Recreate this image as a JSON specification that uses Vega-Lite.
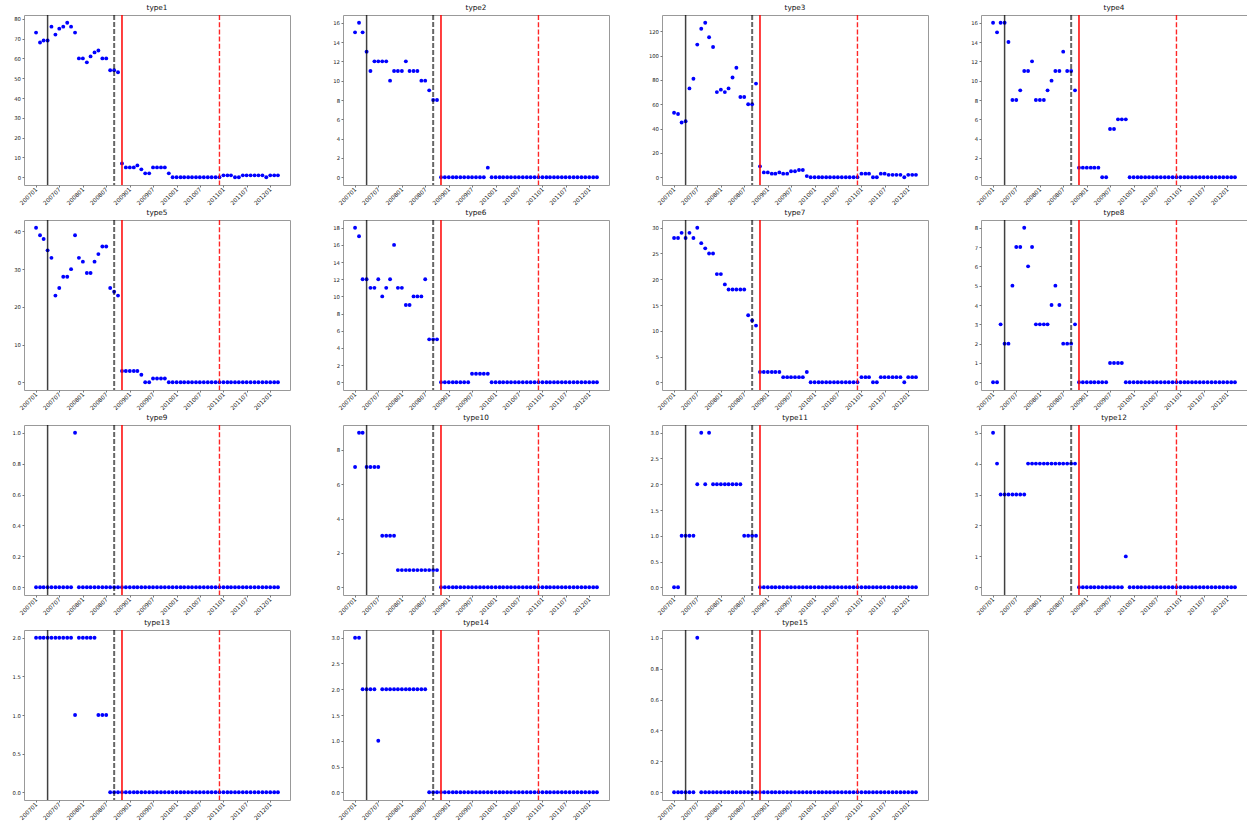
{
"$schema": "https://vega.github.io/schema/vega-lite/v6.json",
"background": "white",
"padding": {"left": 11, "top": 3, "right": 1, "bottom": 2},
"columns": 4,
"bounds": "flush",
"spacing": {"row": 35, "column": 53},
"data": {"values": [
{"type":"type1","month":"2007-01","value":73},{"type":"type1","month":"2007-02","value":68},{"type":"type1","month":"2007-03","value":69},{"type":"type1","month":"2007-04","value":69},{"type":"type1","month":"2007-05","value":76},{"type":"type1","month":"2007-06","value":72},{"type":"type1","month":"2007-07","value":75},{"type":"type1","month":"2007-08","value":76},{"type":"type1","month":"2007-09","value":78},{"type":"type1","month":"2007-10","value":76},{"type":"type1","month":"2007-11","value":73},{"type":"type1","month":"2007-12","value":60},
{"type":"type1","month":"2008-01","value":60},{"type":"type1","month":"2008-02","value":58},{"type":"type1","month":"2008-03","value":61},{"type":"type1","month":"2008-04","value":63},{"type":"type1","month":"2008-05","value":64},{"type":"type1","month":"2008-06","value":60},{"type":"type1","month":"2008-07","value":60},{"type":"type1","month":"2008-08","value":54},{"type":"type1","month":"2008-09","value":54},{"type":"type1","month":"2008-10","value":53},{"type":"type1","month":"2008-11","value":7},{"type":"type1","month":"2008-12","value":5},
{"type":"type1","month":"2009-01","value":5},{"type":"type1","month":"2009-02","value":5},{"type":"type1","month":"2009-03","value":6},{"type":"type1","month":"2009-04","value":4},{"type":"type1","month":"2009-05","value":2},{"type":"type1","month":"2009-06","value":2},{"type":"type1","month":"2009-07","value":5},{"type":"type1","month":"2009-08","value":5},{"type":"type1","month":"2009-09","value":5},{"type":"type1","month":"2009-10","value":5},{"type":"type1","month":"2009-11","value":2},{"type":"type1","month":"2009-12","value":0},
{"type":"type1","month":"2010-01","value":0},{"type":"type1","month":"2010-02","value":0},{"type":"type1","month":"2010-03","value":0},{"type":"type1","month":"2010-04","value":0},{"type":"type1","month":"2010-05","value":0},{"type":"type1","month":"2010-06","value":0},{"type":"type1","month":"2010-07","value":0},{"type":"type1","month":"2010-08","value":0},{"type":"type1","month":"2010-09","value":0},{"type":"type1","month":"2010-10","value":0},{"type":"type1","month":"2010-11","value":0},{"type":"type1","month":"2010-12","value":0},
{"type":"type1","month":"2011-01","value":1},{"type":"type1","month":"2011-02","value":1},{"type":"type1","month":"2011-03","value":1},{"type":"type1","month":"2011-04","value":0},{"type":"type1","month":"2011-05","value":0},{"type":"type1","month":"2011-06","value":1},{"type":"type1","month":"2011-07","value":1},{"type":"type1","month":"2011-08","value":1},{"type":"type1","month":"2011-09","value":1},{"type":"type1","month":"2011-10","value":1},{"type":"type1","month":"2011-11","value":1},{"type":"type1","month":"2011-12","value":0},
{"type":"type1","month":"2012-01","value":1},{"type":"type1","month":"2012-02","value":1},{"type":"type1","month":"2012-03","value":1},

{"type":"type2","month":"2007-01","value":15},{"type":"type2","month":"2007-02","value":16},{"type":"type2","month":"2007-03","value":15},{"type":"type2","month":"2007-04","value":13},{"type":"type2","month":"2007-05","value":11},{"type":"type2","month":"2007-06","value":12},{"type":"type2","month":"2007-07","value":12},{"type":"type2","month":"2007-08","value":12},{"type":"type2","month":"2007-09","value":12},{"type":"type2","month":"2007-10","value":10},{"type":"type2","month":"2007-11","value":11},{"type":"type2","month":"2007-12","value":11},
{"type":"type2","month":"2008-01","value":11},{"type":"type2","month":"2008-02","value":12},{"type":"type2","month":"2008-03","value":11},{"type":"type2","month":"2008-04","value":11},{"type":"type2","month":"2008-05","value":11},{"type":"type2","month":"2008-06","value":10},{"type":"type2","month":"2008-07","value":10},{"type":"type2","month":"2008-08","value":9},{"type":"type2","month":"2008-09","value":8},{"type":"type2","month":"2008-10","value":8},{"type":"type2","month":"2008-11","value":0},{"type":"type2","month":"2008-12","value":0},
{"type":"type2","month":"2009-01","value":0},{"type":"type2","month":"2009-02","value":0},{"type":"type2","month":"2009-03","value":0},{"type":"type2","month":"2009-04","value":0},{"type":"type2","month":"2009-05","value":0},{"type":"type2","month":"2009-06","value":0},{"type":"type2","month":"2009-07","value":0},{"type":"type2","month":"2009-08","value":0},{"type":"type2","month":"2009-09","value":0},{"type":"type2","month":"2009-10","value":0},{"type":"type2","month":"2009-11","value":1},{"type":"type2","month":"2009-12","value":0},
{"type":"type2","month":"2010-01","value":0},{"type":"type2","month":"2010-02","value":0},{"type":"type2","month":"2010-03","value":0},{"type":"type2","month":"2010-04","value":0},{"type":"type2","month":"2010-05","value":0},{"type":"type2","month":"2010-06","value":0},{"type":"type2","month":"2010-07","value":0},{"type":"type2","month":"2010-08","value":0},{"type":"type2","month":"2010-09","value":0},{"type":"type2","month":"2010-10","value":0},{"type":"type2","month":"2010-11","value":0},{"type":"type2","month":"2010-12","value":0},
{"type":"type2","month":"2011-01","value":0},{"type":"type2","month":"2011-02","value":0},{"type":"type2","month":"2011-03","value":0},{"type":"type2","month":"2011-04","value":0},{"type":"type2","month":"2011-05","value":0},{"type":"type2","month":"2011-06","value":0},{"type":"type2","month":"2011-07","value":0},{"type":"type2","month":"2011-08","value":0},{"type":"type2","month":"2011-09","value":0},{"type":"type2","month":"2011-10","value":0},{"type":"type2","month":"2011-11","value":0},{"type":"type2","month":"2011-12","value":0},
{"type":"type2","month":"2012-01","value":0},{"type":"type2","month":"2012-02","value":0},{"type":"type2","month":"2012-03","value":0},

{"type":"type3","month":"2007-01","value":53},{"type":"type3","month":"2007-02","value":52},{"type":"type3","month":"2007-03","value":45},{"type":"type3","month":"2007-04","value":46},{"type":"type3","month":"2007-05","value":73},{"type":"type3","month":"2007-06","value":81},{"type":"type3","month":"2007-07","value":109},{"type":"type3","month":"2007-08","value":122},{"type":"type3","month":"2007-09","value":127},{"type":"type3","month":"2007-10","value":115},{"type":"type3","month":"2007-11","value":107},{"type":"type3","month":"2007-12","value":70},
{"type":"type3","month":"2008-01","value":72},{"type":"type3","month":"2008-02","value":70},{"type":"type3","month":"2008-03","value":73},{"type":"type3","month":"2008-04","value":82},{"type":"type3","month":"2008-05","value":90},{"type":"type3","month":"2008-06","value":66},{"type":"type3","month":"2008-07","value":66},{"type":"type3","month":"2008-08","value":60},{"type":"type3","month":"2008-09","value":60},{"type":"type3","month":"2008-10","value":77},{"type":"type3","month":"2008-11","value":9},{"type":"type3","month":"2008-12","value":4},
{"type":"type3","month":"2009-01","value":4},{"type":"type3","month":"2009-02","value":3},{"type":"type3","month":"2009-03","value":3},{"type":"type3","month":"2009-04","value":4},{"type":"type3","month":"2009-05","value":3},{"type":"type3","month":"2009-06","value":3},{"type":"type3","month":"2009-07","value":5},{"type":"type3","month":"2009-08","value":5},{"type":"type3","month":"2009-09","value":6},{"type":"type3","month":"2009-10","value":6},{"type":"type3","month":"2009-11","value":1},{"type":"type3","month":"2009-12","value":0},
{"type":"type3","month":"2010-01","value":0},{"type":"type3","month":"2010-02","value":0},{"type":"type3","month":"2010-03","value":0},{"type":"type3","month":"2010-04","value":0},{"type":"type3","month":"2010-05","value":0},{"type":"type3","month":"2010-06","value":0},{"type":"type3","month":"2010-07","value":0},{"type":"type3","month":"2010-08","value":0},{"type":"type3","month":"2010-09","value":0},{"type":"type3","month":"2010-10","value":0},{"type":"type3","month":"2010-11","value":0},{"type":"type3","month":"2010-12","value":0},
{"type":"type3","month":"2011-01","value":3},{"type":"type3","month":"2011-02","value":3},{"type":"type3","month":"2011-03","value":3},{"type":"type3","month":"2011-04","value":0},{"type":"type3","month":"2011-05","value":0},{"type":"type3","month":"2011-06","value":3},{"type":"type3","month":"2011-07","value":3},{"type":"type3","month":"2011-08","value":2},{"type":"type3","month":"2011-09","value":2},{"type":"type3","month":"2011-10","value":2},{"type":"type3","month":"2011-11","value":2},{"type":"type3","month":"2011-12","value":0},
{"type":"type3","month":"2012-01","value":2},{"type":"type3","month":"2012-02","value":2},{"type":"type3","month":"2012-03","value":2},

{"type":"type4","month":"2007-01","value":16},{"type":"type4","month":"2007-02","value":15},{"type":"type4","month":"2007-03","value":16},{"type":"type4","month":"2007-04","value":16},{"type":"type4","month":"2007-05","value":14},{"type":"type4","month":"2007-06","value":8},{"type":"type4","month":"2007-07","value":8},{"type":"type4","month":"2007-08","value":9},{"type":"type4","month":"2007-09","value":11},{"type":"type4","month":"2007-10","value":11},{"type":"type4","month":"2007-11","value":12},{"type":"type4","month":"2007-12","value":8},
{"type":"type4","month":"2008-01","value":8},{"type":"type4","month":"2008-02","value":8},{"type":"type4","month":"2008-03","value":9},{"type":"type4","month":"2008-04","value":10},{"type":"type4","month":"2008-05","value":11},{"type":"type4","month":"2008-06","value":11},{"type":"type4","month":"2008-07","value":13},{"type":"type4","month":"2008-08","value":11},{"type":"type4","month":"2008-09","value":11},{"type":"type4","month":"2008-10","value":9},{"type":"type4","month":"2008-11","value":1},{"type":"type4","month":"2008-12","value":1},
{"type":"type4","month":"2009-01","value":1},{"type":"type4","month":"2009-02","value":1},{"type":"type4","month":"2009-03","value":1},{"type":"type4","month":"2009-04","value":1},{"type":"type4","month":"2009-05","value":0},{"type":"type4","month":"2009-06","value":0},{"type":"type4","month":"2009-07","value":5},{"type":"type4","month":"2009-08","value":5},{"type":"type4","month":"2009-09","value":6},{"type":"type4","month":"2009-10","value":6},{"type":"type4","month":"2009-11","value":6},{"type":"type4","month":"2009-12","value":0},
{"type":"type4","month":"2010-01","value":0},{"type":"type4","month":"2010-02","value":0},{"type":"type4","month":"2010-03","value":0},{"type":"type4","month":"2010-04","value":0},{"type":"type4","month":"2010-05","value":0},{"type":"type4","month":"2010-06","value":0},{"type":"type4","month":"2010-07","value":0},{"type":"type4","month":"2010-08","value":0},{"type":"type4","month":"2010-09","value":0},{"type":"type4","month":"2010-10","value":0},{"type":"type4","month":"2010-11","value":0},{"type":"type4","month":"2010-12","value":0},
{"type":"type4","month":"2011-01","value":0},{"type":"type4","month":"2011-02","value":0},{"type":"type4","month":"2011-03","value":0},{"type":"type4","month":"2011-04","value":0},{"type":"type4","month":"2011-05","value":0},{"type":"type4","month":"2011-06","value":0},{"type":"type4","month":"2011-07","value":0},{"type":"type4","month":"2011-08","value":0},{"type":"type4","month":"2011-09","value":0},{"type":"type4","month":"2011-10","value":0},{"type":"type4","month":"2011-11","value":0},{"type":"type4","month":"2011-12","value":0},
{"type":"type4","month":"2012-01","value":0},{"type":"type4","month":"2012-02","value":0},{"type":"type4","month":"2012-03","value":0},

{"type":"type5","month":"2007-01","value":41},{"type":"type5","month":"2007-02","value":39},{"type":"type5","month":"2007-03","value":38},{"type":"type5","month":"2007-04","value":35},{"type":"type5","month":"2007-05","value":33},{"type":"type5","month":"2007-06","value":23},{"type":"type5","month":"2007-07","value":25},{"type":"type5","month":"2007-08","value":28},{"type":"type5","month":"2007-09","value":28},{"type":"type5","month":"2007-10","value":30},{"type":"type5","month":"2007-11","value":39},{"type":"type5","month":"2007-12","value":33},
{"type":"type5","month":"2008-01","value":32},{"type":"type5","month":"2008-02","value":29},{"type":"type5","month":"2008-03","value":29},{"type":"type5","month":"2008-04","value":32},{"type":"type5","month":"2008-05","value":34},{"type":"type5","month":"2008-06","value":36},{"type":"type5","month":"2008-07","value":36},{"type":"type5","month":"2008-08","value":25},{"type":"type5","month":"2008-09","value":24},{"type":"type5","month":"2008-10","value":23},{"type":"type5","month":"2008-11","value":3},{"type":"type5","month":"2008-12","value":3},
{"type":"type5","month":"2009-01","value":3},{"type":"type5","month":"2009-02","value":3},{"type":"type5","month":"2009-03","value":3},{"type":"type5","month":"2009-04","value":2},{"type":"type5","month":"2009-05","value":0},{"type":"type5","month":"2009-06","value":0},{"type":"type5","month":"2009-07","value":1},{"type":"type5","month":"2009-08","value":1},{"type":"type5","month":"2009-09","value":1},{"type":"type5","month":"2009-10","value":1},{"type":"type5","month":"2009-11","value":0},{"type":"type5","month":"2009-12","value":0},
{"type":"type5","month":"2010-01","value":0},{"type":"type5","month":"2010-02","value":0},{"type":"type5","month":"2010-03","value":0},{"type":"type5","month":"2010-04","value":0},{"type":"type5","month":"2010-05","value":0},{"type":"type5","month":"2010-06","value":0},{"type":"type5","month":"2010-07","value":0},{"type":"type5","month":"2010-08","value":0},{"type":"type5","month":"2010-09","value":0},{"type":"type5","month":"2010-10","value":0},{"type":"type5","month":"2010-11","value":0},{"type":"type5","month":"2010-12","value":0},
{"type":"type5","month":"2011-01","value":0},{"type":"type5","month":"2011-02","value":0},{"type":"type5","month":"2011-03","value":0},{"type":"type5","month":"2011-04","value":0},{"type":"type5","month":"2011-05","value":0},{"type":"type5","month":"2011-06","value":0},{"type":"type5","month":"2011-07","value":0},{"type":"type5","month":"2011-08","value":0},{"type":"type5","month":"2011-09","value":0},{"type":"type5","month":"2011-10","value":0},{"type":"type5","month":"2011-11","value":0},{"type":"type5","month":"2011-12","value":0},
{"type":"type5","month":"2012-01","value":0},{"type":"type5","month":"2012-02","value":0},{"type":"type5","month":"2012-03","value":0},

{"type":"type6","month":"2007-01","value":18},{"type":"type6","month":"2007-02","value":17},{"type":"type6","month":"2007-03","value":12},{"type":"type6","month":"2007-04","value":12},{"type":"type6","month":"2007-05","value":11},{"type":"type6","month":"2007-06","value":11},{"type":"type6","month":"2007-07","value":12},{"type":"type6","month":"2007-08","value":10},{"type":"type6","month":"2007-09","value":11},{"type":"type6","month":"2007-10","value":12},{"type":"type6","month":"2007-11","value":16},{"type":"type6","month":"2007-12","value":11},
{"type":"type6","month":"2008-01","value":11},{"type":"type6","month":"2008-02","value":9},{"type":"type6","month":"2008-03","value":9},{"type":"type6","month":"2008-04","value":10},{"type":"type6","month":"2008-05","value":10},{"type":"type6","month":"2008-06","value":10},{"type":"type6","month":"2008-07","value":12},{"type":"type6","month":"2008-08","value":5},{"type":"type6","month":"2008-09","value":5},{"type":"type6","month":"2008-10","value":5},{"type":"type6","month":"2008-11","value":0},{"type":"type6","month":"2008-12","value":0},
{"type":"type6","month":"2009-01","value":0},{"type":"type6","month":"2009-02","value":0},{"type":"type6","month":"2009-03","value":0},{"type":"type6","month":"2009-04","value":0},{"type":"type6","month":"2009-05","value":0},{"type":"type6","month":"2009-06","value":0},{"type":"type6","month":"2009-07","value":1},{"type":"type6","month":"2009-08","value":1},{"type":"type6","month":"2009-09","value":1},{"type":"type6","month":"2009-10","value":1},{"type":"type6","month":"2009-11","value":1},{"type":"type6","month":"2009-12","value":0},
{"type":"type6","month":"2010-01","value":0},{"type":"type6","month":"2010-02","value":0},{"type":"type6","month":"2010-03","value":0},{"type":"type6","month":"2010-04","value":0},{"type":"type6","month":"2010-05","value":0},{"type":"type6","month":"2010-06","value":0},{"type":"type6","month":"2010-07","value":0},{"type":"type6","month":"2010-08","value":0},{"type":"type6","month":"2010-09","value":0},{"type":"type6","month":"2010-10","value":0},{"type":"type6","month":"2010-11","value":0},{"type":"type6","month":"2010-12","value":0},
{"type":"type6","month":"2011-01","value":0},{"type":"type6","month":"2011-02","value":0},{"type":"type6","month":"2011-03","value":0},{"type":"type6","month":"2011-04","value":0},{"type":"type6","month":"2011-05","value":0},{"type":"type6","month":"2011-06","value":0},{"type":"type6","month":"2011-07","value":0},{"type":"type6","month":"2011-08","value":0},{"type":"type6","month":"2011-09","value":0},{"type":"type6","month":"2011-10","value":0},{"type":"type6","month":"2011-11","value":0},{"type":"type6","month":"2011-12","value":0},
{"type":"type6","month":"2012-01","value":0},{"type":"type6","month":"2012-02","value":0},{"type":"type6","month":"2012-03","value":0},

{"type":"type7","month":"2007-01","value":28},{"type":"type7","month":"2007-02","value":28},{"type":"type7","month":"2007-03","value":29},{"type":"type7","month":"2007-04","value":28},{"type":"type7","month":"2007-05","value":29},{"type":"type7","month":"2007-06","value":28},{"type":"type7","month":"2007-07","value":30},{"type":"type7","month":"2007-08","value":27},{"type":"type7","month":"2007-09","value":26},{"type":"type7","month":"2007-10","value":25},{"type":"type7","month":"2007-11","value":25},{"type":"type7","month":"2007-12","value":21},
{"type":"type7","month":"2008-01","value":21},{"type":"type7","month":"2008-02","value":19},{"type":"type7","month":"2008-03","value":18},{"type":"type7","month":"2008-04","value":18},{"type":"type7","month":"2008-05","value":18},{"type":"type7","month":"2008-06","value":18},{"type":"type7","month":"2008-07","value":18},{"type":"type7","month":"2008-08","value":13},{"type":"type7","month":"2008-09","value":12},{"type":"type7","month":"2008-10","value":11},{"type":"type7","month":"2008-11","value":2},{"type":"type7","month":"2008-12","value":2},
{"type":"type7","month":"2009-01","value":2},{"type":"type7","month":"2009-02","value":2},{"type":"type7","month":"2009-03","value":2},{"type":"type7","month":"2009-04","value":2},{"type":"type7","month":"2009-05","value":1},{"type":"type7","month":"2009-06","value":1},{"type":"type7","month":"2009-07","value":1},{"type":"type7","month":"2009-08","value":1},{"type":"type7","month":"2009-09","value":1},{"type":"type7","month":"2009-10","value":1},{"type":"type7","month":"2009-11","value":2},{"type":"type7","month":"2009-12","value":0},
{"type":"type7","month":"2010-01","value":0},{"type":"type7","month":"2010-02","value":0},{"type":"type7","month":"2010-03","value":0},{"type":"type7","month":"2010-04","value":0},{"type":"type7","month":"2010-05","value":0},{"type":"type7","month":"2010-06","value":0},{"type":"type7","month":"2010-07","value":0},{"type":"type7","month":"2010-08","value":0},{"type":"type7","month":"2010-09","value":0},{"type":"type7","month":"2010-10","value":0},{"type":"type7","month":"2010-11","value":0},{"type":"type7","month":"2010-12","value":0},
{"type":"type7","month":"2011-01","value":1},{"type":"type7","month":"2011-02","value":1},{"type":"type7","month":"2011-03","value":1},{"type":"type7","month":"2011-04","value":0},{"type":"type7","month":"2011-05","value":0},{"type":"type7","month":"2011-06","value":1},{"type":"type7","month":"2011-07","value":1},{"type":"type7","month":"2011-08","value":1},{"type":"type7","month":"2011-09","value":1},{"type":"type7","month":"2011-10","value":1},{"type":"type7","month":"2011-11","value":1},{"type":"type7","month":"2011-12","value":0},
{"type":"type7","month":"2012-01","value":1},{"type":"type7","month":"2012-02","value":1},{"type":"type7","month":"2012-03","value":1},

{"type":"type8","month":"2007-01","value":0},{"type":"type8","month":"2007-02","value":0},{"type":"type8","month":"2007-03","value":3},{"type":"type8","month":"2007-04","value":2},{"type":"type8","month":"2007-05","value":2},{"type":"type8","month":"2007-06","value":5},{"type":"type8","month":"2007-07","value":7},{"type":"type8","month":"2007-08","value":7},{"type":"type8","month":"2007-09","value":8},{"type":"type8","month":"2007-10","value":6},{"type":"type8","month":"2007-11","value":7},{"type":"type8","month":"2007-12","value":3},
{"type":"type8","month":"2008-01","value":3},{"type":"type8","month":"2008-02","value":3},{"type":"type8","month":"2008-03","value":3},{"type":"type8","month":"2008-04","value":4},{"type":"type8","month":"2008-05","value":5},{"type":"type8","month":"2008-06","value":4},{"type":"type8","month":"2008-07","value":2},{"type":"type8","month":"2008-08","value":2},{"type":"type8","month":"2008-09","value":2},{"type":"type8","month":"2008-10","value":3},{"type":"type8","month":"2008-11","value":0},{"type":"type8","month":"2008-12","value":0},
{"type":"type8","month":"2009-01","value":0},{"type":"type8","month":"2009-02","value":0},{"type":"type8","month":"2009-03","value":0},{"type":"type8","month":"2009-04","value":0},{"type":"type8","month":"2009-05","value":0},{"type":"type8","month":"2009-06","value":0},{"type":"type8","month":"2009-07","value":1},{"type":"type8","month":"2009-08","value":1},{"type":"type8","month":"2009-09","value":1},{"type":"type8","month":"2009-10","value":1},{"type":"type8","month":"2009-11","value":0},{"type":"type8","month":"2009-12","value":0},
{"type":"type8","month":"2010-01","value":0},{"type":"type8","month":"2010-02","value":0},{"type":"type8","month":"2010-03","value":0},{"type":"type8","month":"2010-04","value":0},{"type":"type8","month":"2010-05","value":0},{"type":"type8","month":"2010-06","value":0},{"type":"type8","month":"2010-07","value":0},{"type":"type8","month":"2010-08","value":0},{"type":"type8","month":"2010-09","value":0},{"type":"type8","month":"2010-10","value":0},{"type":"type8","month":"2010-11","value":0},{"type":"type8","month":"2010-12","value":0},
{"type":"type8","month":"2011-01","value":0},{"type":"type8","month":"2011-02","value":0},{"type":"type8","month":"2011-03","value":0},{"type":"type8","month":"2011-04","value":0},{"type":"type8","month":"2011-05","value":0},{"type":"type8","month":"2011-06","value":0},{"type":"type8","month":"2011-07","value":0},{"type":"type8","month":"2011-08","value":0},{"type":"type8","month":"2011-09","value":0},{"type":"type8","month":"2011-10","value":0},{"type":"type8","month":"2011-11","value":0},{"type":"type8","month":"2011-12","value":0},
{"type":"type8","month":"2012-01","value":0},{"type":"type8","month":"2012-02","value":0},{"type":"type8","month":"2012-03","value":0},

{"type":"type9","month":"2007-01","value":0},{"type":"type9","month":"2007-02","value":0},{"type":"type9","month":"2007-03","value":0},{"type":"type9","month":"2007-04","value":0},{"type":"type9","month":"2007-05","value":0},{"type":"type9","month":"2007-06","value":0},{"type":"type9","month":"2007-07","value":0},{"type":"type9","month":"2007-08","value":0},{"type":"type9","month":"2007-09","value":0},{"type":"type9","month":"2007-10","value":0},{"type":"type9","month":"2007-11","value":1},{"type":"type9","month":"2007-12","value":0},
{"type":"type9","month":"2008-01","value":0},{"type":"type9","month":"2008-02","value":0},{"type":"type9","month":"2008-03","value":0},{"type":"type9","month":"2008-04","value":0},{"type":"type9","month":"2008-05","value":0},{"type":"type9","month":"2008-06","value":0},{"type":"type9","month":"2008-07","value":0},{"type":"type9","month":"2008-08","value":0},{"type":"type9","month":"2008-09","value":0},{"type":"type9","month":"2008-10","value":0},{"type":"type9","month":"2008-11","value":0},{"type":"type9","month":"2008-12","value":0},
{"type":"type9","month":"2009-01","value":0},{"type":"type9","month":"2009-02","value":0},{"type":"type9","month":"2009-03","value":0},{"type":"type9","month":"2009-04","value":0},{"type":"type9","month":"2009-05","value":0},{"type":"type9","month":"2009-06","value":0},{"type":"type9","month":"2009-07","value":0},{"type":"type9","month":"2009-08","value":0},{"type":"type9","month":"2009-09","value":0},{"type":"type9","month":"2009-10","value":0},{"type":"type9","month":"2009-11","value":0},{"type":"type9","month":"2009-12","value":0},
{"type":"type9","month":"2010-01","value":0},{"type":"type9","month":"2010-02","value":0},{"type":"type9","month":"2010-03","value":0},{"type":"type9","month":"2010-04","value":0},{"type":"type9","month":"2010-05","value":0},{"type":"type9","month":"2010-06","value":0},{"type":"type9","month":"2010-07","value":0},{"type":"type9","month":"2010-08","value":0},{"type":"type9","month":"2010-09","value":0},{"type":"type9","month":"2010-10","value":0},{"type":"type9","month":"2010-11","value":0},{"type":"type9","month":"2010-12","value":0},
{"type":"type9","month":"2011-01","value":0},{"type":"type9","month":"2011-02","value":0},{"type":"type9","month":"2011-03","value":0},{"type":"type9","month":"2011-04","value":0},{"type":"type9","month":"2011-05","value":0},{"type":"type9","month":"2011-06","value":0},{"type":"type9","month":"2011-07","value":0},{"type":"type9","month":"2011-08","value":0},{"type":"type9","month":"2011-09","value":0},{"type":"type9","month":"2011-10","value":0},{"type":"type9","month":"2011-11","value":0},{"type":"type9","month":"2011-12","value":0},
{"type":"type9","month":"2012-01","value":0},{"type":"type9","month":"2012-02","value":0},{"type":"type9","month":"2012-03","value":0},

{"type":"type10","month":"2007-01","value":7},{"type":"type10","month":"2007-02","value":9},{"type":"type10","month":"2007-03","value":9},{"type":"type10","month":"2007-04","value":7},{"type":"type10","month":"2007-05","value":7},{"type":"type10","month":"2007-06","value":7},{"type":"type10","month":"2007-07","value":7},{"type":"type10","month":"2007-08","value":3},{"type":"type10","month":"2007-09","value":3},{"type":"type10","month":"2007-10","value":3},{"type":"type10","month":"2007-11","value":3},{"type":"type10","month":"2007-12","value":1},
{"type":"type10","month":"2008-01","value":1},{"type":"type10","month":"2008-02","value":1},{"type":"type10","month":"2008-03","value":1},{"type":"type10","month":"2008-04","value":1},{"type":"type10","month":"2008-05","value":1},{"type":"type10","month":"2008-06","value":1},{"type":"type10","month":"2008-07","value":1},{"type":"type10","month":"2008-08","value":1},{"type":"type10","month":"2008-09","value":1},{"type":"type10","month":"2008-10","value":1},{"type":"type10","month":"2008-11","value":0},{"type":"type10","month":"2008-12","value":0},
{"type":"type10","month":"2009-01","value":0},{"type":"type10","month":"2009-02","value":0},{"type":"type10","month":"2009-03","value":0},{"type":"type10","month":"2009-04","value":0},{"type":"type10","month":"2009-05","value":0},{"type":"type10","month":"2009-06","value":0},{"type":"type10","month":"2009-07","value":0},{"type":"type10","month":"2009-08","value":0},{"type":"type10","month":"2009-09","value":0},{"type":"type10","month":"2009-10","value":0},{"type":"type10","month":"2009-11","value":0},{"type":"type10","month":"2009-12","value":0},
{"type":"type10","month":"2010-01","value":0},{"type":"type10","month":"2010-02","value":0},{"type":"type10","month":"2010-03","value":0},{"type":"type10","month":"2010-04","value":0},{"type":"type10","month":"2010-05","value":0},{"type":"type10","month":"2010-06","value":0},{"type":"type10","month":"2010-07","value":0},{"type":"type10","month":"2010-08","value":0},{"type":"type10","month":"2010-09","value":0},{"type":"type10","month":"2010-10","value":0},{"type":"type10","month":"2010-11","value":0},{"type":"type10","month":"2010-12","value":0},
{"type":"type10","month":"2011-01","value":0},{"type":"type10","month":"2011-02","value":0},{"type":"type10","month":"2011-03","value":0},{"type":"type10","month":"2011-04","value":0},{"type":"type10","month":"2011-05","value":0},{"type":"type10","month":"2011-06","value":0},{"type":"type10","month":"2011-07","value":0},{"type":"type10","month":"2011-08","value":0},{"type":"type10","month":"2011-09","value":0},{"type":"type10","month":"2011-10","value":0},{"type":"type10","month":"2011-11","value":0},{"type":"type10","month":"2011-12","value":0},
{"type":"type10","month":"2012-01","value":0},{"type":"type10","month":"2012-02","value":0},{"type":"type10","month":"2012-03","value":0},

{"type":"type11","month":"2007-01","value":0},{"type":"type11","month":"2007-02","value":0},{"type":"type11","month":"2007-03","value":1},{"type":"type11","month":"2007-04","value":1},{"type":"type11","month":"2007-05","value":1},{"type":"type11","month":"2007-06","value":1},{"type":"type11","month":"2007-07","value":2},{"type":"type11","month":"2007-08","value":3},{"type":"type11","month":"2007-09","value":2},{"type":"type11","month":"2007-10","value":3},{"type":"type11","month":"2007-11","value":2},{"type":"type11","month":"2007-12","value":2},
{"type":"type11","month":"2008-01","value":2},{"type":"type11","month":"2008-02","value":2},{"type":"type11","month":"2008-03","value":2},{"type":"type11","month":"2008-04","value":2},{"type":"type11","month":"2008-05","value":2},{"type":"type11","month":"2008-06","value":2},{"type":"type11","month":"2008-07","value":1},{"type":"type11","month":"2008-08","value":1},{"type":"type11","month":"2008-09","value":1},{"type":"type11","month":"2008-10","value":1},{"type":"type11","month":"2008-11","value":0},{"type":"type11","month":"2008-12","value":0},
{"type":"type11","month":"2009-01","value":0},{"type":"type11","month":"2009-02","value":0},{"type":"type11","month":"2009-03","value":0},{"type":"type11","month":"2009-04","value":0},{"type":"type11","month":"2009-05","value":0},{"type":"type11","month":"2009-06","value":0},{"type":"type11","month":"2009-07","value":0},{"type":"type11","month":"2009-08","value":0},{"type":"type11","month":"2009-09","value":0},{"type":"type11","month":"2009-10","value":0},{"type":"type11","month":"2009-11","value":0},{"type":"type11","month":"2009-12","value":0},
{"type":"type11","month":"2010-01","value":0},{"type":"type11","month":"2010-02","value":0},{"type":"type11","month":"2010-03","value":0},{"type":"type11","month":"2010-04","value":0},{"type":"type11","month":"2010-05","value":0},{"type":"type11","month":"2010-06","value":0},{"type":"type11","month":"2010-07","value":0},{"type":"type11","month":"2010-08","value":0},{"type":"type11","month":"2010-09","value":0},{"type":"type11","month":"2010-10","value":0},{"type":"type11","month":"2010-11","value":0},{"type":"type11","month":"2010-12","value":0},
{"type":"type11","month":"2011-01","value":0},{"type":"type11","month":"2011-02","value":0},{"type":"type11","month":"2011-03","value":0},{"type":"type11","month":"2011-04","value":0},{"type":"type11","month":"2011-05","value":0},{"type":"type11","month":"2011-06","value":0},{"type":"type11","month":"2011-07","value":0},{"type":"type11","month":"2011-08","value":0},{"type":"type11","month":"2011-09","value":0},{"type":"type11","month":"2011-10","value":0},{"type":"type11","month":"2011-11","value":0},{"type":"type11","month":"2011-12","value":0},
{"type":"type11","month":"2012-01","value":0},{"type":"type11","month":"2012-02","value":0},{"type":"type11","month":"2012-03","value":0},

{"type":"type12","month":"2007-01","value":5},{"type":"type12","month":"2007-02","value":4},{"type":"type12","month":"2007-03","value":3},{"type":"type12","month":"2007-04","value":3},{"type":"type12","month":"2007-05","value":3},{"type":"type12","month":"2007-06","value":3},{"type":"type12","month":"2007-07","value":3},{"type":"type12","month":"2007-08","value":3},{"type":"type12","month":"2007-09","value":3},{"type":"type12","month":"2007-10","value":4},{"type":"type12","month":"2007-11","value":4},{"type":"type12","month":"2007-12","value":4},
{"type":"type12","month":"2008-01","value":4},{"type":"type12","month":"2008-02","value":4},{"type":"type12","month":"2008-03","value":4},{"type":"type12","month":"2008-04","value":4},{"type":"type12","month":"2008-05","value":4},{"type":"type12","month":"2008-06","value":4},{"type":"type12","month":"2008-07","value":4},{"type":"type12","month":"2008-08","value":4},{"type":"type12","month":"2008-09","value":4},{"type":"type12","month":"2008-10","value":4},{"type":"type12","month":"2008-11","value":0},{"type":"type12","month":"2008-12","value":0},
{"type":"type12","month":"2009-01","value":0},{"type":"type12","month":"2009-02","value":0},{"type":"type12","month":"2009-03","value":0},{"type":"type12","month":"2009-04","value":0},{"type":"type12","month":"2009-05","value":0},{"type":"type12","month":"2009-06","value":0},{"type":"type12","month":"2009-07","value":0},{"type":"type12","month":"2009-08","value":0},{"type":"type12","month":"2009-09","value":0},{"type":"type12","month":"2009-10","value":0},{"type":"type12","month":"2009-11","value":1},{"type":"type12","month":"2009-12","value":0},
{"type":"type12","month":"2010-01","value":0},{"type":"type12","month":"2010-02","value":0},{"type":"type12","month":"2010-03","value":0},{"type":"type12","month":"2010-04","value":0},{"type":"type12","month":"2010-05","value":0},{"type":"type12","month":"2010-06","value":0},{"type":"type12","month":"2010-07","value":0},{"type":"type12","month":"2010-08","value":0},{"type":"type12","month":"2010-09","value":0},{"type":"type12","month":"2010-10","value":0},{"type":"type12","month":"2010-11","value":0},{"type":"type12","month":"2010-12","value":0},
{"type":"type12","month":"2011-01","value":0},{"type":"type12","month":"2011-02","value":0},{"type":"type12","month":"2011-03","value":0},{"type":"type12","month":"2011-04","value":0},{"type":"type12","month":"2011-05","value":0},{"type":"type12","month":"2011-06","value":0},{"type":"type12","month":"2011-07","value":0},{"type":"type12","month":"2011-08","value":0},{"type":"type12","month":"2011-09","value":0},{"type":"type12","month":"2011-10","value":0},{"type":"type12","month":"2011-11","value":0},{"type":"type12","month":"2011-12","value":0},
{"type":"type12","month":"2012-01","value":0},{"type":"type12","month":"2012-02","value":0},{"type":"type12","month":"2012-03","value":0},

{"type":"type13","month":"2007-01","value":2},{"type":"type13","month":"2007-02","value":2},{"type":"type13","month":"2007-03","value":2},{"type":"type13","month":"2007-04","value":2},{"type":"type13","month":"2007-05","value":2},{"type":"type13","month":"2007-06","value":2},{"type":"type13","month":"2007-07","value":2},{"type":"type13","month":"2007-08","value":2},{"type":"type13","month":"2007-09","value":2},{"type":"type13","month":"2007-10","value":2},{"type":"type13","month":"2007-11","value":1},{"type":"type13","month":"2007-12","value":2},
{"type":"type13","month":"2008-01","value":2},{"type":"type13","month":"2008-02","value":2},{"type":"type13","month":"2008-03","value":2},{"type":"type13","month":"2008-04","value":2},{"type":"type13","month":"2008-05","value":1},{"type":"type13","month":"2008-06","value":1},{"type":"type13","month":"2008-07","value":1},{"type":"type13","month":"2008-08","value":0},{"type":"type13","month":"2008-09","value":0},{"type":"type13","month":"2008-10","value":0},{"type":"type13","month":"2008-11","value":0},{"type":"type13","month":"2008-12","value":0},
{"type":"type13","month":"2009-01","value":0},{"type":"type13","month":"2009-02","value":0},{"type":"type13","month":"2009-03","value":0},{"type":"type13","month":"2009-04","value":0},{"type":"type13","month":"2009-05","value":0},{"type":"type13","month":"2009-06","value":0},{"type":"type13","month":"2009-07","value":0},{"type":"type13","month":"2009-08","value":0},{"type":"type13","month":"2009-09","value":0},{"type":"type13","month":"2009-10","value":0},{"type":"type13","month":"2009-11","value":0},{"type":"type13","month":"2009-12","value":0},
{"type":"type13","month":"2010-01","value":0},{"type":"type13","month":"2010-02","value":0},{"type":"type13","month":"2010-03","value":0},{"type":"type13","month":"2010-04","value":0},{"type":"type13","month":"2010-05","value":0},{"type":"type13","month":"2010-06","value":0},{"type":"type13","month":"2010-07","value":0},{"type":"type13","month":"2010-08","value":0},{"type":"type13","month":"2010-09","value":0},{"type":"type13","month":"2010-10","value":0},{"type":"type13","month":"2010-11","value":0},{"type":"type13","month":"2010-12","value":0},
{"type":"type13","month":"2011-01","value":0},{"type":"type13","month":"2011-02","value":0},{"type":"type13","month":"2011-03","value":0},{"type":"type13","month":"2011-04","value":0},{"type":"type13","month":"2011-05","value":0},{"type":"type13","month":"2011-06","value":0},{"type":"type13","month":"2011-07","value":0},{"type":"type13","month":"2011-08","value":0},{"type":"type13","month":"2011-09","value":0},{"type":"type13","month":"2011-10","value":0},{"type":"type13","month":"2011-11","value":0},{"type":"type13","month":"2011-12","value":0},
{"type":"type13","month":"2012-01","value":0},{"type":"type13","month":"2012-02","value":0},{"type":"type13","month":"2012-03","value":0},

{"type":"type14","month":"2007-01","value":3},{"type":"type14","month":"2007-02","value":3},{"type":"type14","month":"2007-03","value":2},{"type":"type14","month":"2007-04","value":2},{"type":"type14","month":"2007-05","value":2},{"type":"type14","month":"2007-06","value":2},{"type":"type14","month":"2007-07","value":1},{"type":"type14","month":"2007-08","value":2},{"type":"type14","month":"2007-09","value":2},{"type":"type14","month":"2007-10","value":2},{"type":"type14","month":"2007-11","value":2},{"type":"type14","month":"2007-12","value":2},
{"type":"type14","month":"2008-01","value":2},{"type":"type14","month":"2008-02","value":2},{"type":"type14","month":"2008-03","value":2},{"type":"type14","month":"2008-04","value":2},{"type":"type14","month":"2008-05","value":2},{"type":"type14","month":"2008-06","value":2},{"type":"type14","month":"2008-07","value":2},{"type":"type14","month":"2008-08","value":0},{"type":"type14","month":"2008-09","value":0},{"type":"type14","month":"2008-10","value":0},{"type":"type14","month":"2008-11","value":0},{"type":"type14","month":"2008-12","value":0},
{"type":"type14","month":"2009-01","value":0},{"type":"type14","month":"2009-02","value":0},{"type":"type14","month":"2009-03","value":0},{"type":"type14","month":"2009-04","value":0},{"type":"type14","month":"2009-05","value":0},{"type":"type14","month":"2009-06","value":0},{"type":"type14","month":"2009-07","value":0},{"type":"type14","month":"2009-08","value":0},{"type":"type14","month":"2009-09","value":0},{"type":"type14","month":"2009-10","value":0},{"type":"type14","month":"2009-11","value":0},{"type":"type14","month":"2009-12","value":0},
{"type":"type14","month":"2010-01","value":0},{"type":"type14","month":"2010-02","value":0},{"type":"type14","month":"2010-03","value":0},{"type":"type14","month":"2010-04","value":0},{"type":"type14","month":"2010-05","value":0},{"type":"type14","month":"2010-06","value":0},{"type":"type14","month":"2010-07","value":0},{"type":"type14","month":"2010-08","value":0},{"type":"type14","month":"2010-09","value":0},{"type":"type14","month":"2010-10","value":0},{"type":"type14","month":"2010-11","value":0},{"type":"type14","month":"2010-12","value":0},
{"type":"type14","month":"2011-01","value":0},{"type":"type14","month":"2011-02","value":0},{"type":"type14","month":"2011-03","value":0},{"type":"type14","month":"2011-04","value":0},{"type":"type14","month":"2011-05","value":0},{"type":"type14","month":"2011-06","value":0},{"type":"type14","month":"2011-07","value":0},{"type":"type14","month":"2011-08","value":0},{"type":"type14","month":"2011-09","value":0},{"type":"type14","month":"2011-10","value":0},{"type":"type14","month":"2011-11","value":0},{"type":"type14","month":"2011-12","value":0},
{"type":"type14","month":"2012-01","value":0},{"type":"type14","month":"2012-02","value":0},{"type":"type14","month":"2012-03","value":0},

{"type":"type15","month":"2007-01","value":0},{"type":"type15","month":"2007-02","value":0},{"type":"type15","month":"2007-03","value":0},{"type":"type15","month":"2007-04","value":0},{"type":"type15","month":"2007-05","value":0},{"type":"type15","month":"2007-06","value":0},{"type":"type15","month":"2007-07","value":1},{"type":"type15","month":"2007-08","value":0},{"type":"type15","month":"2007-09","value":0},{"type":"type15","month":"2007-10","value":0},{"type":"type15","month":"2007-11","value":0},{"type":"type15","month":"2007-12","value":0},
{"type":"type15","month":"2008-01","value":0},{"type":"type15","month":"2008-02","value":0},{"type":"type15","month":"2008-03","value":0},{"type":"type15","month":"2008-04","value":0},{"type":"type15","month":"2008-05","value":0},{"type":"type15","month":"2008-06","value":0},{"type":"type15","month":"2008-07","value":0},{"type":"type15","month":"2008-08","value":0},{"type":"type15","month":"2008-09","value":0},{"type":"type15","month":"2008-10","value":0},{"type":"type15","month":"2008-11","value":0},{"type":"type15","month":"2008-12","value":0},
{"type":"type15","month":"2009-01","value":0},{"type":"type15","month":"2009-02","value":0},{"type":"type15","month":"2009-03","value":0},{"type":"type15","month":"2009-04","value":0},{"type":"type15","month":"2009-05","value":0},{"type":"type15","month":"2009-06","value":0},{"type":"type15","month":"2009-07","value":0},{"type":"type15","month":"2009-08","value":0},{"type":"type15","month":"2009-09","value":0},{"type":"type15","month":"2009-10","value":0},{"type":"type15","month":"2009-11","value":0},{"type":"type15","month":"2009-12","value":0},
{"type":"type15","month":"2010-01","value":0},{"type":"type15","month":"2010-02","value":0},{"type":"type15","month":"2010-03","value":0},{"type":"type15","month":"2010-04","value":0},{"type":"type15","month":"2010-05","value":0},{"type":"type15","month":"2010-06","value":0},{"type":"type15","month":"2010-07","value":0},{"type":"type15","month":"2010-08","value":0},{"type":"type15","month":"2010-09","value":0},{"type":"type15","month":"2010-10","value":0},{"type":"type15","month":"2010-11","value":0},{"type":"type15","month":"2010-12","value":0},
{"type":"type15","month":"2011-01","value":0},{"type":"type15","month":"2011-02","value":0},{"type":"type15","month":"2011-03","value":0},{"type":"type15","month":"2011-04","value":0},{"type":"type15","month":"2011-05","value":0},{"type":"type15","month":"2011-06","value":0},{"type":"type15","month":"2011-07","value":0},{"type":"type15","month":"2011-08","value":0},{"type":"type15","month":"2011-09","value":0},{"type":"type15","month":"2011-10","value":0},{"type":"type15","month":"2011-11","value":0},{"type":"type15","month":"2011-12","value":0},
{"type":"type15","month":"2012-01","value":0},{"type":"type15","month":"2012-02","value":0},{"type":"type15","month":"2012-03","value":0}
]},
"facet": {
  "field": "type", "type": "nominal",
  "sort": ["type1","type2","type3","type4","type5","type6","type7","type8","type9","type10","type11","type12","type13","type14","type15"],
  "header": {"title": null, "labelFontSize": 7.3, "labelPadding": 3, "labelColor": "#111111", "labelFont": "DejaVu Sans"}
},
"spec": {
  "width": 266,
  "height": 170,
  "layer": [
    {
      "mark": {"type": "point", "filled": true, "size": 15, "color": "#0000ff", "opacity": 1},
      "encoding": {
        "x": {"field": "month", "type": "temporal",
              "scale": {"type": "utc", "domain": [1159488000000, 1338681600000]},
              "axis": {"values": [1167609600000, 1183248000000, 1199145600000, 1214870400000, 1230768000000, 1246406400000, 1262304000000, 1277942400000, 1293840000000, 1309478400000, 1325376000000],
                "tickCount": {"interval": "month", "step": 6},
                "format": "%Y%m", "labelAngle": -45, "labelAlign": "right", "labelBaseline": "middle",
                "labelOverlap": false, "labelBound": false, "labelFlush": false, "labelFontSize": 5.8, "labelPadding": 1, "labelColor": "#111111", "title": null}},
        "y": {"field": "value", "type": "quantitative",
              "scale": {"zero": false, "nice": false, "padding": 7.7},
              "axis": {"tickCount": 6.3, "title": null, "labelOverlap": false}}
      }
    },
    {
      "transform": [{"aggregate": [{"op": "count", "as": "n"}], "groupby": ["type"]}],
      "mark": {"type": "rule", "color": "#000000", "strokeWidth": 1.5, "opacity": 0.75},
      "encoding": {"x": {"datum": 1175385600000, "type": "temporal",
        "axis": {"values": [1167609600000, 1183248000000, 1199145600000, 1214870400000, 1230768000000, 1246406400000, 1262304000000, 1277942400000, 1293840000000, 1309478400000, 1325376000000],
                "tickCount": {"interval": "month", "step": 6},
                "format": "%Y%m", "labelAngle": -45, "labelAlign": "right", "labelBaseline": "middle",
                "labelOverlap": false, "labelBound": false, "labelFlush": false, "labelFontSize": 5.8, "labelPadding": 1, "labelColor": "#111111", "title": null}}}
    },
    {
      "transform": [{"aggregate": [{"op": "count", "as": "n"}], "groupby": ["type"]}],
      "mark": {"type": "rule", "color": "#000000", "strokeWidth": 2, "opacity": 0.6, "strokeDash": [5, 2]},
      "encoding": {"x": {"datum": 1220227200000, "type": "temporal",
        "axis": {"values": [1167609600000, 1183248000000, 1199145600000, 1214870400000, 1230768000000, 1246406400000, 1262304000000, 1277942400000, 1293840000000, 1309478400000, 1325376000000],
                "tickCount": {"interval": "month", "step": 6},
                "format": "%Y%m", "labelAngle": -45, "labelAlign": "right", "labelBaseline": "middle",
                "labelOverlap": false, "labelBound": false, "labelFlush": false, "labelFontSize": 5.8, "labelPadding": 1, "labelColor": "#111111", "title": null}}}
    },
    {
      "transform": [{"aggregate": [{"op": "count", "as": "n"}], "groupby": ["type"]}],
      "mark": {"type": "rule", "color": "#ff0000", "strokeWidth": 1.5},
      "encoding": {"x": {"datum": 1225497600000, "type": "temporal",
        "axis": {"values": [1167609600000, 1183248000000, 1199145600000, 1214870400000, 1230768000000, 1246406400000, 1262304000000, 1277942400000, 1293840000000, 1309478400000, 1325376000000],
                "tickCount": {"interval": "month", "step": 6},
                "format": "%Y%m", "labelAngle": -45, "labelAlign": "right", "labelBaseline": "middle",
                "labelOverlap": false, "labelBound": false, "labelFlush": false, "labelFontSize": 5.8, "labelPadding": 1, "labelColor": "#111111", "title": null}}}
    },
    {
      "transform": [{"aggregate": [{"op": "count", "as": "n"}], "groupby": ["type"]}],
      "mark": {"type": "rule", "color": "#ff0000", "strokeWidth": 1.4, "opacity": 0.85, "strokeDash": [5, 2.2]},
      "encoding": {"x": {"datum": 1291161600000, "type": "temporal",
        "axis": {"values": [1167609600000, 1183248000000, 1199145600000, 1214870400000, 1230768000000, 1246406400000, 1262304000000, 1277942400000, 1293840000000, 1309478400000, 1325376000000],
                "tickCount": {"interval": "month", "step": 6},
                "format": "%Y%m", "labelAngle": -45, "labelAlign": "right", "labelBaseline": "middle",
                "labelOverlap": false, "labelBound": false, "labelFlush": false, "labelFontSize": 5.8, "labelPadding": 1, "labelColor": "#111111", "title": null}}}
    }
  ]
},
"resolve": {"scale": {"y": "independent"}, "axis": {"x": "independent", "y": "independent"}},
"config": {
  "font": "DejaVu Sans",
  "view": {"stroke": "#999999", "strokeWidth": 1},
  "axis": {"grid": false, "domain": false, "labelFontSize": 5.3, "labelColor": "#222222", "labelFont": "DejaVu Sans", "tickColor": "#777777", "tickSize": 2, "labelPadding": 1.5, "labelFlush": false}
}
}
